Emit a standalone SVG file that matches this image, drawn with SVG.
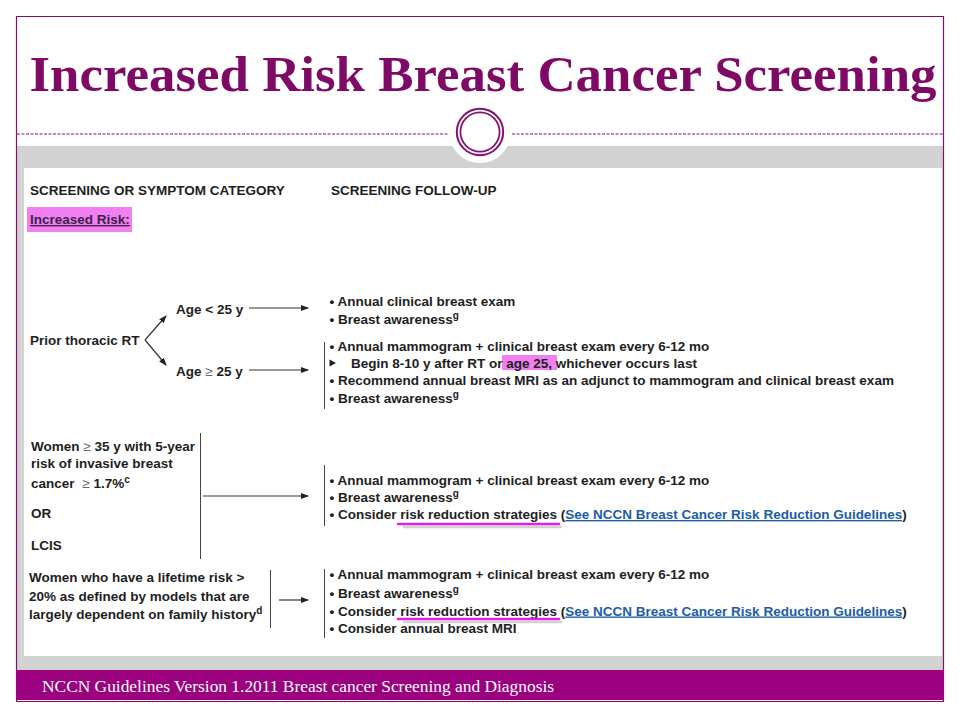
<svg xmlns="http://www.w3.org/2000/svg" width="960" height="720" viewBox="0 0 960 720">
<style>
.t{font-family:"Liberation Sans",Arial,sans-serif;font-size:13.5px;font-weight:bold;fill:#1e1e1e}
.sup{font-size:10px}
.ln{stroke:#333;stroke-width:1.2;fill:none}
.bar{stroke:#444;stroke-width:1;fill:none}
.link{fill:#1c5ca8;text-decoration:underline}
.pk{stroke:#e51ee5;stroke-width:2.5;stroke-linecap:round}
.sh{stroke:#9a9a9a;stroke-width:2.5;opacity:0.45}
</style>
<defs>
<marker id="ah" markerWidth="8" markerHeight="6" refX="7" refY="3" orient="auto" markerUnits="userSpaceOnUse">
<path d="M0,0 L8,3 L0,6 z" fill="#222"/>
</marker>
</defs>
<rect x="0" y="0" width="960" height="720" fill="#ffffff"/>
<g id="frame">
<rect x="17" y="146" width="926" height="524" fill="#d2d2d2"/>
<rect x="24" y="168" width="918" height="488" fill="#ffffff"/>
<line x1="16.5" y1="16" x2="16.5" y2="702" stroke="#80106a" stroke-width="1.2"/>
<line x1="943.5" y1="16" x2="943.5" y2="702" stroke="#80106a" stroke-width="1.2"/>
<line x1="16" y1="16.5" x2="944" y2="16.5" stroke="#80106a" stroke-width="1.2"/>
<line x1="17" y1="134" x2="943" y2="134" stroke="#80106a" stroke-width="1" stroke-dasharray="3 1.5"/>
<circle cx="480" cy="132" r="31" fill="#ffffff"/>
<circle cx="480" cy="132" r="23.2" fill="none" stroke="#86106e" stroke-width="2"/>
<circle cx="480" cy="132" r="19.6" fill="none" stroke="#86106e" stroke-width="1.8"/>
<rect x="16" y="670" width="928" height="30" fill="#9b007e"/>
<line x1="16" y1="701.5" x2="944" y2="701.5" stroke="#9b007e" stroke-width="1"/>
</g>
<g id="title">
<text x="29.5" y="91" font-family="'Liberation Serif','Times New Roman',serif" font-weight="bold" font-size="50" fill="#7f0a65" textLength="907" lengthAdjust="spacingAndGlyphs">Increased Risk Breast Cancer Screening</text>
</g>
<g id="footer">
<text x="42" y="692" font-family="'Liberation Serif','Times New Roman',serif" font-size="16" fill="#ffffff" textLength="512" lengthAdjust="spacingAndGlyphs">NCCN Guidelines Version 1.2011 Breast cancer Screening and Diagnosis</text>
</g>
<g id="headers">
<text class="t" x="30" y="195">SCREENING OR SYMPTOM CATEGORY</text>
<text class="t" x="331" y="195">SCREENING FOLLOW-UP</text>
<rect x="27" y="207" width="105" height="25" fill="#f27ff2"/>
<text class="t" x="30" y="224" style="fill:#3a2348;text-decoration:underline">Increased Risk:</text>
</g>
<g id="prior-rt">
<text class="t" x="30" y="345">Prior thoracic RT</text>
</g>
<g id="age-lt-25">
<text class="t" x="176" y="314">Age &lt; 25 y</text>
</g>
<g id="age-ge-25">
<text class="t" x="176" y="376">Age <tspan style="font-weight:normal;fill:#666">≥</tspan> 25 y</text>
</g>
<g id="followup-lt-25">
<text class="t" x="329.5" y="306">• Annual clinical breast exam</text>
<text class="t" x="329.5" y="323.5">• Breast awareness<tspan class="sup" dy="-5">g</tspan></text>
</g>
<g id="followup-ge-25">
<line class="bar" x1="324.5" y1="342" x2="324.5" y2="409"/>
<rect x="502" y="355" width="55" height="15" fill="#f27ff2"/>
<text class="t" x="329.5" y="350.5">• Annual mammogram + clinical breast exam every 6-12 mo</text>
<polygon points="329.5,359.5 336,363 329.5,366.5" fill="#1e1e1e"/>
<text class="t" x="351" y="367.5">Begin 8-10 y after RT or age 25, whichever occurs last</text>
<text class="t" x="329.5" y="385">• Recommend annual breast MRI as an adjunct to mammogram and clinical breast exam</text>
<text class="t" x="329.5" y="402.5">• Breast awareness<tspan class="sup" dy="-5">g</tspan></text>
</g>
<g id="women-35-lcis">
<text class="t" x="31" y="451">Women <tspan style="font-weight:normal;fill:#666">≥</tspan> 35 y with 5-year</text>
<text class="t" x="31" y="467.5">risk of invasive breast</text>
<text class="t" x="31" y="488">cancer <tspan dx="4" style="font-weight:normal;fill:#666">≥</tspan> 1.7%<tspan class="sup" dy="-5">c</tspan></text>
<text class="t" x="31" y="517.5">OR</text>
<text class="t" x="31" y="550">LCIS</text>
<line class="bar" x1="200.5" y1="433" x2="200.5" y2="559"/>
</g>
<g id="followup-women-35">
<line class="bar" x1="324.5" y1="465" x2="324.5" y2="526"/>
<text class="t" x="329.5" y="485">• Annual mammogram + clinical breast exam every 6-12 mo</text>
<text class="t" x="329.5" y="502">• Breast awareness<tspan class="sup" dy="-5">g</tspan></text>
<text class="t" x="329.5" y="519">• Consider risk reduction strategies (<tspan class="link">See NCCN Breast Cancer Risk Reduction Guidelines</tspan>)</text>
<line class="sh" x1="403" y1="527" x2="562" y2="527"/>
<line class="pk" x1="398" y1="524" x2="559" y2="524"/>
</g>
<g id="women-lifetime">
<text class="t" x="29" y="582">Women who have a lifetime risk &gt;</text>
<text class="t" x="29" y="601">20% as defined by models that are</text>
<text class="t" x="29" y="618.5">largely dependent on family history<tspan class="sup" dy="-5">d</tspan></text>
<line class="bar" x1="270.5" y1="570" x2="270.5" y2="628"/>
</g>
<g id="followup-lifetime">
<line class="bar" x1="324.5" y1="569" x2="324.5" y2="638"/>
<text class="t" x="329.5" y="579">• Annual mammogram + clinical breast exam every 6-12 mo</text>
<text class="t" x="329.5" y="597.5">• Breast awareness<tspan class="sup" dy="-5">g</tspan></text>
<text class="t" x="329.5" y="615.5">• Consider risk reduction strategies (<tspan class="link">See NCCN Breast Cancer Risk Reduction Guidelines</tspan>)</text>
<text class="t" x="329.5" y="633">• Consider annual breast MRI</text>
<line class="sh" x1="403" y1="622" x2="562" y2="622"/>
<line class="pk" x1="398" y1="619" x2="559" y2="619"/>
</g>
<g id="connectors">
<line class="ln" x1="145" y1="340" x2="166" y2="316" marker-end="url(#ah)"/>
<line class="ln" x1="145" y1="340" x2="166" y2="365" marker-end="url(#ah)"/>
<line class="ln" x1="249" y1="308" x2="308" y2="308" marker-end="url(#ah)"/>
<line class="ln" x1="249" y1="370" x2="308" y2="370" marker-end="url(#ah)"/>
<line class="ln" x1="203" y1="496" x2="308" y2="496" marker-end="url(#ah)"/>
<line class="ln" x1="279" y1="600" x2="308" y2="600" marker-end="url(#ah)"/>
</g>
</svg>
